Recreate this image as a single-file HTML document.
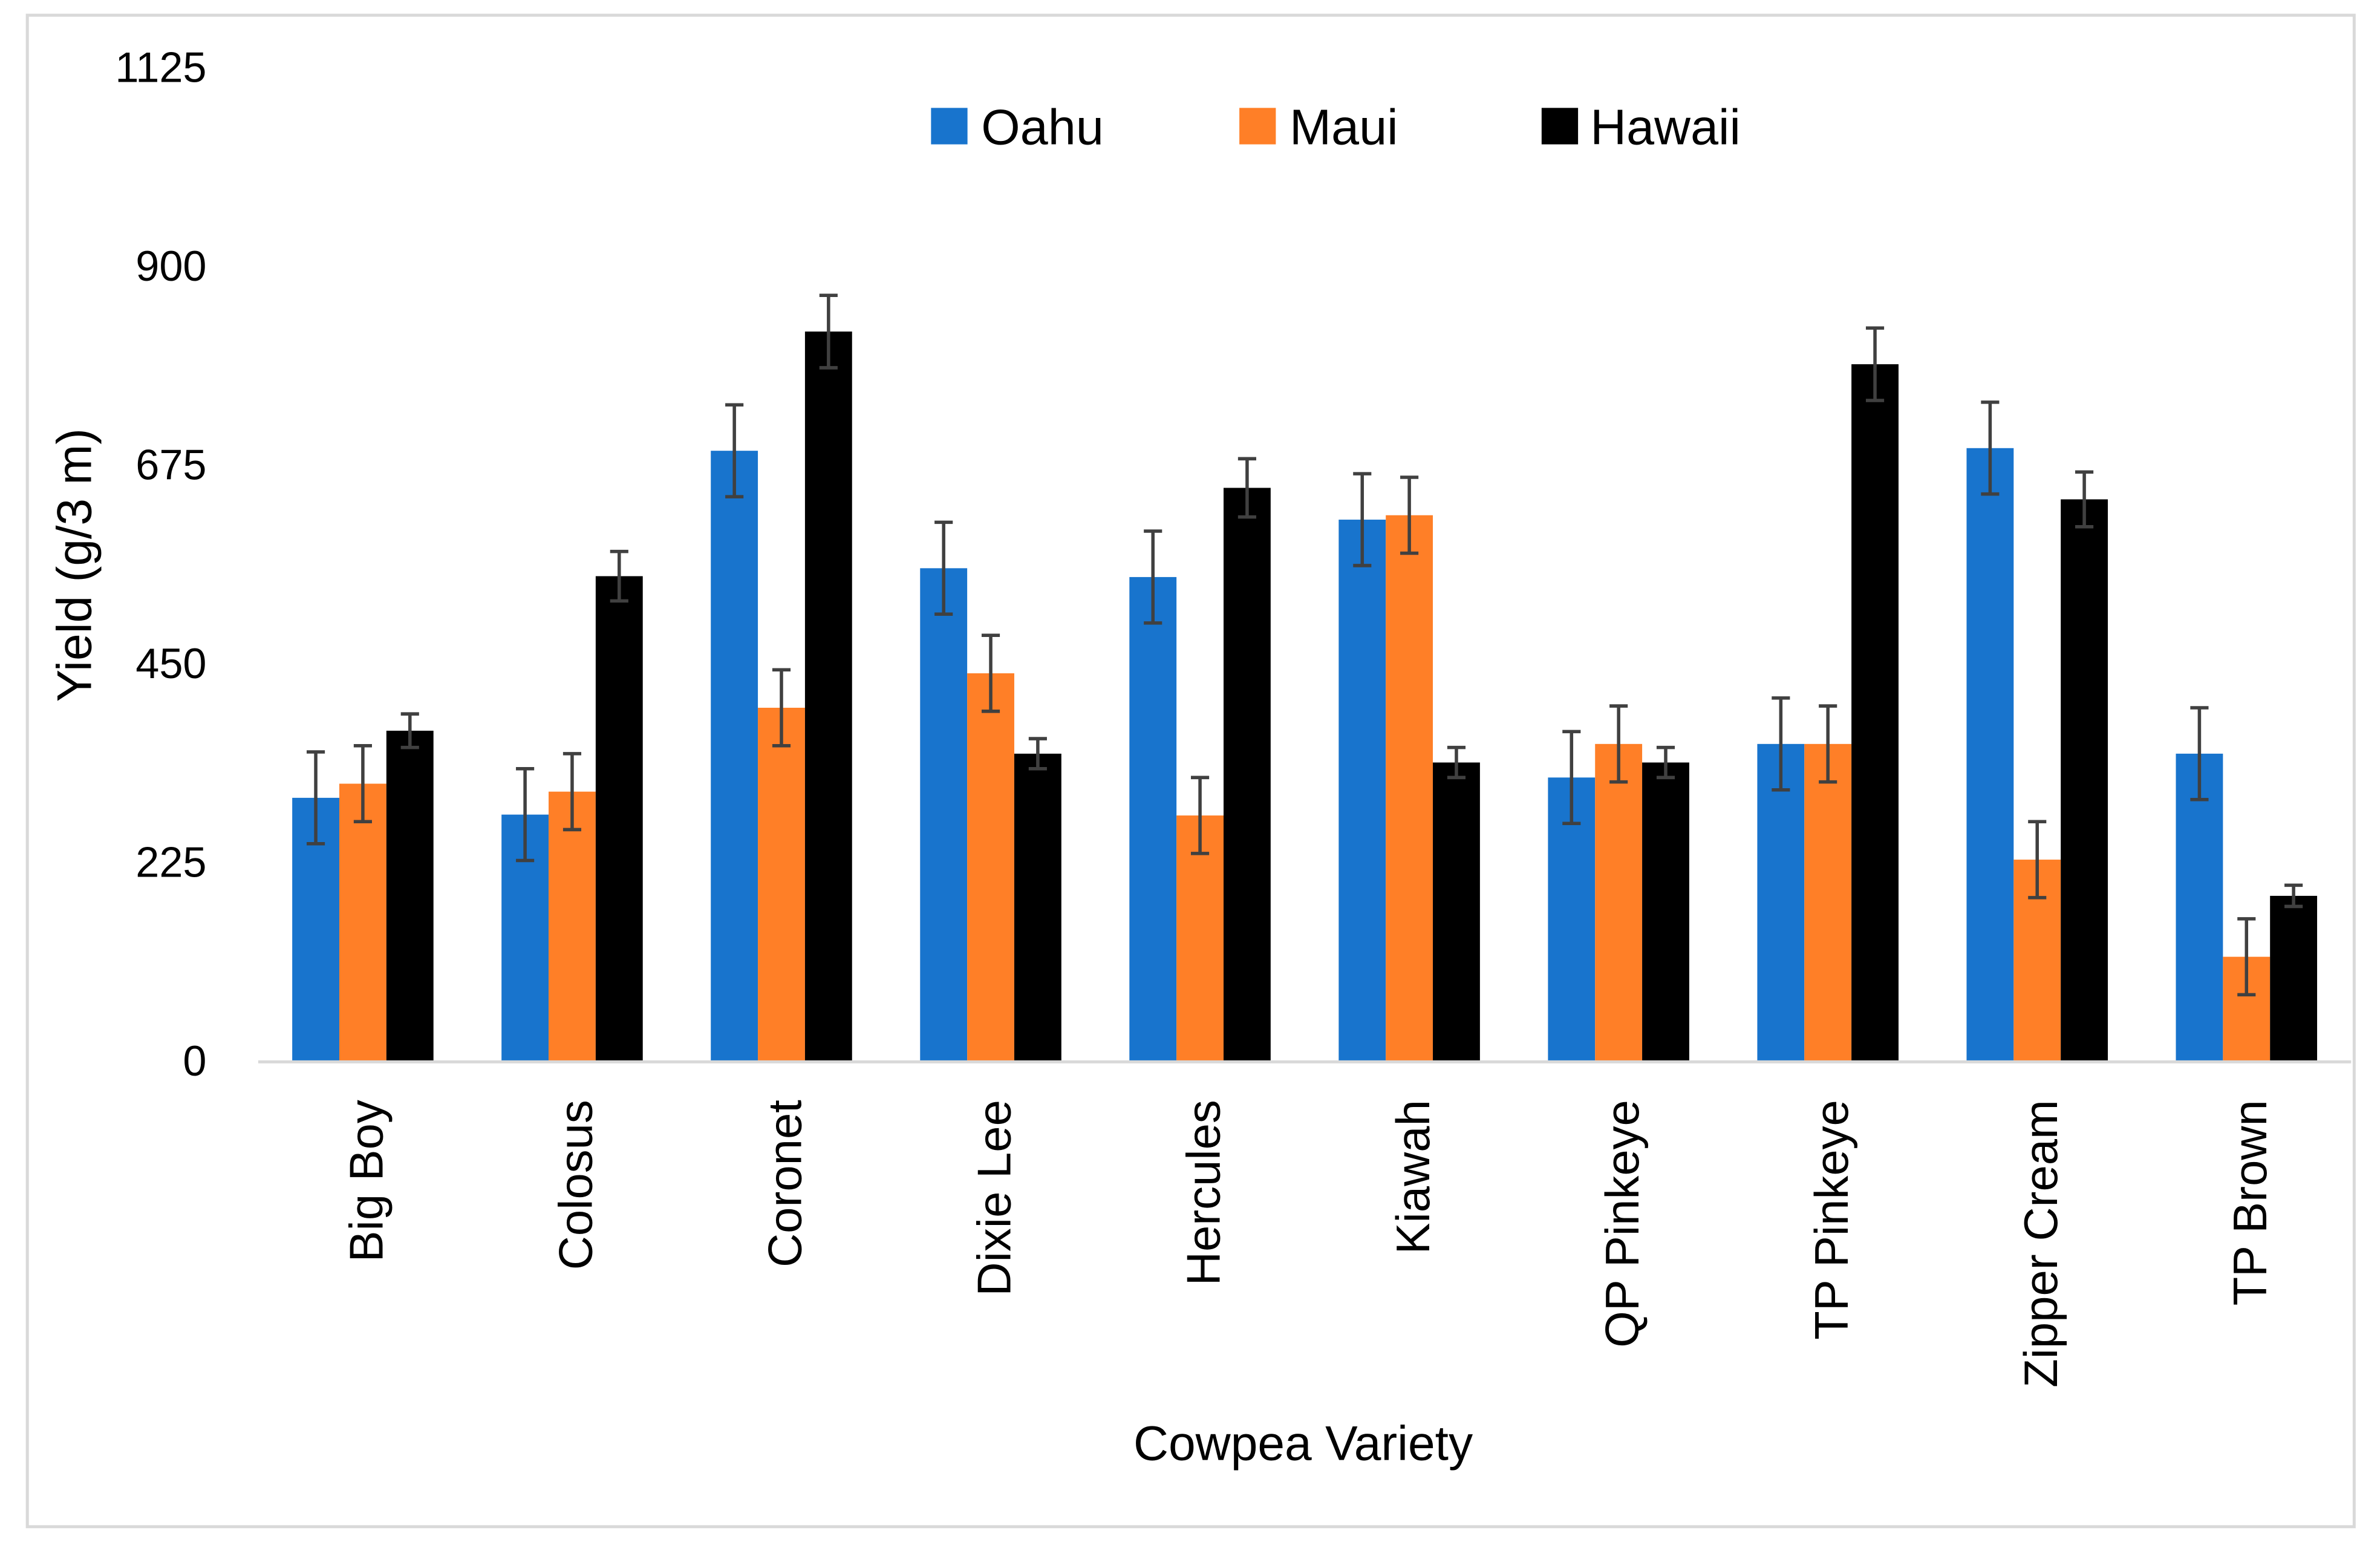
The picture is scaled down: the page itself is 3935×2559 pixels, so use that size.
<!DOCTYPE html>
<html><head><meta charset="utf-8"><style>
html,body{margin:0;padding:0;background:#fff}
svg{display:block;font-family:"Liberation Sans",sans-serif}
</style></head><body>
<svg id="chart" width="3935" height="2559" viewBox="0 0 1567 1019" xmlns="http://www.w3.org/2000/svg">
<rect x="18" y="10" width="1532" height="995" fill="#fff" stroke="#d9d9d9" stroke-width="2"/>
<g id="plot"></g>
<text transform="translate(60,372) rotate(-90)" text-anchor="middle" font-size="32" fill="#000">Yield (g/3 m)</text>
<text x="858" y="961" text-anchor="middle" font-size="32" fill="#000">Cowpea Variety</text>
<g>
<rect x="613" y="71" width="24" height="24" fill="#1874cd"/>
<text x="646" y="95" font-size="33">Oahu</text>
<rect x="816" y="71" width="24" height="24" fill="#ff7f27"/>
<text x="849" y="95" font-size="33">Maui</text>
<rect x="1015" y="71" width="24" height="24" fill="#000"/>
<text x="1047" y="95" font-size="33">Hawaii</text>
</g>
</svg>
<script>
const categories=["Big Boy","Colosus","Coronet","Dixie Lee","Hercules","Kiawah","QP Pinkeye","TP Pinkeye","Zipper Cream","TP Brown"];
const oahu=[299,280,692,559,549,614,322,360,695,349];
const maui=[315,306,401,440,279,619,360,360,229,119];
const hawaii=[375,550,827,349,650,339,339,790,637,188];
const oahuErr=[52,52,52,52,52,52,52,52,52,52];
const mauiErr=[43,43,43,43,43,43,43,43,43,43];
const hawaiiErr=[19,28,41,17,33,17,17,41,31,12];
const yTicks=[0,225,450,675,900,1125];

const NS="http://www.w3.org/2000/svg";
const g=document.getElementById('plot');
const y0=699,yMax=1125,pxPer=654/1125;
const y=v=>y0-v*pxPer;
const x0=170,groupW=137.8,barW=31;
const gx=i=>x0+groupW*i+groupW/2;
function mk(t,a){const e=document.createElementNS(NS,t);for(const k in a)e.setAttribute(k,a[k]);g.appendChild(e);return e;}
yTicks.forEach(t=>{
  const e=mk('text',{x:136,y:y(t)+9,'text-anchor':'end','font-size':28,fill:'#000'});
  
  
  e.textContent=t;
});
const series=[[oahu,oahuErr,'#1874cd','oahu'],[maui,mauiErr,'#ff7f27','maui'],[hawaii,hawaiiErr,'#000','hawaii']];
categories.forEach((c,i)=>{
  series.forEach((s,j)=>{
    const v=s[0][i],er=s[1][i];
    const bx=gx(i)-1.5*barW+j*barW;
    const r=mk('rect',{x:bx,y:y(v),width:barW,height:y0-y(v),fill:s[2]});
    
    
    const cx=bx+barW/2;
    const l=mk('path',{d:`M${cx},${y(v+er)}V${y(v-er)}M${cx-6},${y(v+er)}H${cx+6}M${cx-6},${y(v-er)}H${cx+6}`,stroke:'#404040','stroke-width':2.2,fill:'none'});
    
    
  });
  const t=mk('text',{transform:`translate(${gx(i)+13},${724}) rotate(-90)`,'text-anchor':'end','font-size':31,fill:'#000'});
  
  
  t.textContent=c;
});
const ax=mk('line',{x1:x0,x2:x0+groupW*10,y1:y0,y2:y0,stroke:'#d9d9d9','stroke-width':2});


</script>
</body></html>
